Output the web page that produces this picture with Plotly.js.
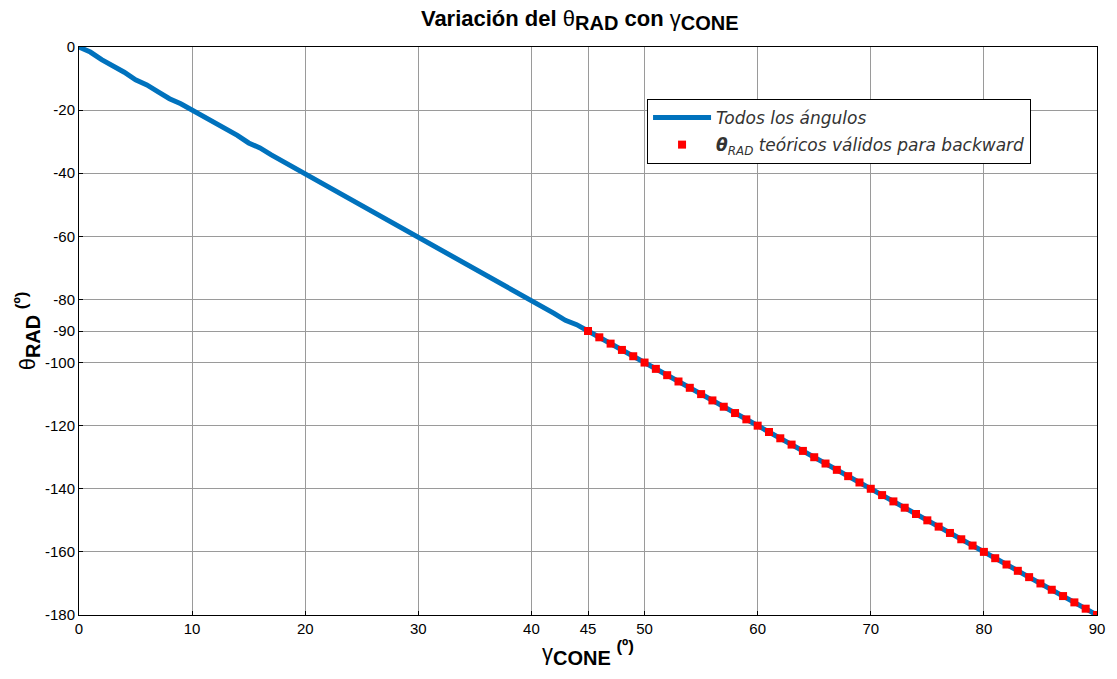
<!DOCTYPE html>
<html>
<head>
<meta charset="utf-8">
<script src="https://cdn.plot.ly/plotly-3.0.1.min.js"></script>
<style>html,body{margin:0;padding:0;background:#fff;}#chart{width:1117px;height:679px;}</style>
</head>
<body>
<div id="chart"></div>
<script>
// Data
const gammaAll = [0,1,2,3,4,5,6,7,8,9,10,11,12,13,14,15,16,17,18,19,20,21,22,23,24,25,26,27,28,29,30,31,32,33,34,35,36,37,38,39,40,41,42,43,44,45,46,47,48,49,50,51,52,53,54,55,56,57,58,59,60,61,62,63,64,65,66,67,68,69,70,71,72,73,74,75,76,77,78,79,80,81,82,83,84,85,86,87,88,89,90];
const thetaAll = [0,-1.6,-4,-5.8,-8,-10.4,-12,-14.2,-16.4,-18,-20,-21.8,-24,-26,-28,-30.4,-32,-34.2,-36.2,-38,-40,-42.4,-44,-46.2,-48.4,-50,-52,-54.2,-56,-58.2,-60.2,-62,-64,-66.2,-68.2,-70,-72,-74.4,-76.4,-78.2,-80.2,-82,-84.4,-86.6,-88,-90,-92,-94,-96,-98,-100,-102,-104,-106,-108,-110,-112,-114,-116,-118,-120,-122,-124,-126,-128,-130,-132,-134,-136,-138,-140,-142,-144,-146,-148,-150,-152,-154,-156,-158,-160,-162,-164,-166,-168,-170,-172,-174,-176,-178,-180];
const gammaValid = [45,46,47,48,49,50,51,52,53,54,55,56,57,58,59,60,61,62,63,64,65,66,67,68,69,70,71,72,73,74,75,76,77,78,79,80,81,82,83,84,85,86,87,88,89,90];
const thetaValid = [-90,-92,-94,-96,-98,-100,-102,-104,-106,-108,-110,-112,-114,-116,-118,-120,-122,-124,-126,-128,-130,-132,-134,-136,-138,-140,-142,-144,-146,-148,-150,-152,-154,-156,-158,-160,-162,-164,-166,-168,-170,-172,-174,-176,-178,-180];
const xTicks = [0,10,20,30,40,45,50,60,70,80,90];
const yTicks = [0,-20,-40,-60,-80,-90,-100,-120,-140,-160,-180];

const FONT = 'Liberation Sans, Arial, sans-serif';

const traces = [
  {x: gammaAll, y: thetaAll, type: 'scatter', mode: 'lines',
   name: '<i>Todos los ángulos</i>', legendgroup: 'a',
   line: {color: '#0072BD', width: 5}},
  {x: gammaValid, y: thetaValid, type: 'scatter', mode: 'markers', legendgroup: 'b',
   name: '<b><i>θ</i></b><sub><i>RAD</i></sub><i> teóricos válidos para backward</i>',
   marker: {color: '#FF0000', symbol: 'square', size: 8}}
];

const axisCommon = {
  showgrid: true, gridcolor: '#9a9a9a', gridwidth: 1,
  showline: true, linecolor: '#000', linewidth: 1, mirror: true,
  ticks: 'inside', ticklen: 4, tickcolor: '#000',
  zeroline: false,
  tickfont: {family: FONT, size: 15, color: '#000'}
};

const layout = {
  width: 1117, height: 679,
  margin: {l: 79, r: 20, t: 47, b: 64},
  paper_bgcolor: '#fff', plot_bgcolor: '#fff',
  title: {text: '<b>Variación del </b><span style="font-size:22px">θ</span><sub><b><span style="font-size:20px">RAD</span></b></sub><b> con </b><span style="font-size:22px">γ</span><sub><b><span style="font-size:20px">CONE</span></b></sub>',
          font: {family: FONT, size: 22, color: '#000'},
          xref: 'container', x: 0.519, xanchor: 'center', yref: 'container', y: 0.985, yanchor: 'top'},
  xaxis: Object.assign({}, axisCommon, {
    range: [0, 90], tickmode: 'array', tickvals: xTicks, ticktext: xTicks.map(String),
    title: {text: '<span style="font-size:22px">γ</span><sub><b><span style="font-size:20px">CONE</span></b></sub><b> <sup><span style="font-size:17px">(º)</span></sup></b>', standoff: 4,
            font: {family: FONT, size: 20, color: '#000'}}
  }),
  yaxis: Object.assign({}, axisCommon, {
    range: [-180, 0], tickmode: 'array', tickvals: yTicks, ticktext: yTicks.map(String),
    title: {text: '<span style="font-size:22px">θ</span><sub><b><span style="font-size:20px">RAD</span></b></sub><b> <sup><span style="font-size:17px">(º)</span></sup></b>', standoff: 3,
            font: {family: FONT, size: 20, color: '#000'}}
  }),
  showlegend: true,
  legend: {x: 0.558, y: 0.9085, xanchor: 'left', yanchor: 'top',
           bgcolor: '#fff', bordercolor: '#000', borderwidth: 1,
           font: {family: 'DejaVu Sans, sans-serif', size: 17, color: '#333'},
           traceorder: 'grouped', tracegroupgap: 2, itemwidth: 58}
};

Plotly.newPlot('chart', traces, layout, {displayModeBar: false});
</script>
</body>
</html>
